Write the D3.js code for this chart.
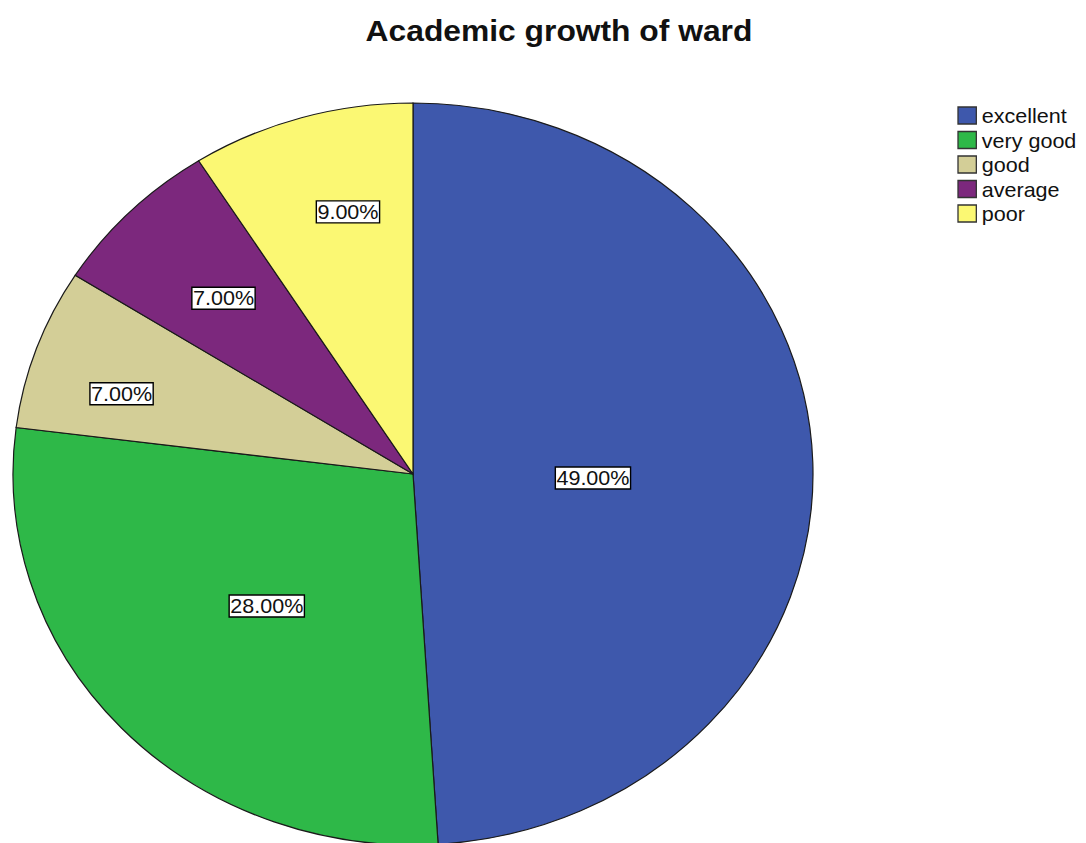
<!DOCTYPE html>
<html>
<head>
<meta charset="utf-8">
<script src="https://cdn.jsdelivr.net/npm/d3@7"></script>
<style>
  html, body { margin: 0; padding: 0; background: #fff; }
  svg { display: block; }
</style>
</head>
<body>
<svg id="chart" width="1086" height="843"></svg>
<script>
// ---- data ----
const titleText = "Academic growth of ward";
const categories = ["excellent", "very good", "good", "average", "poor"];
const percents = [49, 28, 7, 7, 9];
const colors = ["#3E58AC", "#2EB848", "#D3CE97", "#7C287D", "#FBF873"];

// ---- layout (label placement inside each slice: [fraction of slice angle, fraction of radius]) ----
const labelPlacement = [[0.518, 0.45], [0.49, 0.51], [0.37, 0.76], [0.50, 0.67], [0.60, 0.725]];

const W = 1086, H = 843;
const stretchX = 400 / 371;         // original image is horizontally stretched
const cx = 413 / stretchX, cy = 474, R = 371;

const svg = d3.select("#chart");
const root = svg.append("g").attr("transform", `scale(${stretchX},1)`);

// title
root.append("text")
  .attr("x", 559 / stretchX).attr("y", 41)
  .attr("text-anchor", "middle")
  .attr("font-family", "Liberation Sans, Arial, sans-serif")
  .attr("font-weight", "bold")
  .attr("font-size", 29.5)
  .attr("fill", "#111")
  .text(titleText);

const data = categories.map((c, i) => ({ cat: c, value: percents[i], color: colors[i], i }));
const pie = d3.pie().value(d => d.value).sort(null).startAngle(0).endAngle(2 * Math.PI);
const arcs = pie(data);
const arc = d3.arc().innerRadius(0).outerRadius(R);

const g = root.append("g").attr("transform", `translate(${cx},${cy})`);
g.selectAll("path.slice").data(arcs).enter().append("path")
  .attr("class", "slice")
  .attr("d", arc)
  .attr("fill", d => d.data.color)
  .attr("stroke", "#1a1a1a")
  .attr("stroke-width", 1.2)
  .attr("vector-effect", "non-scaling-stroke");

// labels
const fmt = d3.format(".2f");
arcs.forEach((a, i) => {
  const [af, rf] = labelPlacement[i];
  const ang = a.startAngle + (a.endAngle - a.startAngle) * af;
  const x = Math.sin(ang) * R * rf, y = -Math.cos(ang) * R * rf;
  const lg = g.append("g").attr("transform", `translate(${x},${y})`);
  const rect = lg.append("rect").attr("fill", "#fff").attr("stroke", "#000")
    .attr("stroke-width", 1.4).attr("vector-effect", "non-scaling-stroke");
  const t = lg.append("text")
    .attr("text-anchor", "middle")
    .attr("dy", "0.36em")
    .attr("font-family", "Liberation Sans, Arial, sans-serif")
    .attr("font-size", 20)
    .attr("fill", "#111")
    .text(fmt(a.data.value) + "%");
  const bb = t.node().getBBox();
  rect.attr("x", bb.x - 1).attr("y", -11).attr("width", bb.width + 2).attr("height", 22);
});

// legend
const legX = 958 / stretchX, legY = 107, legStep = 24.5, sw = 17;
const leg = root.append("g");
const items = leg.selectAll("g.item").data(data).enter().append("g")
  .attr("transform", (d, i) => `translate(${legX},${legY + i * legStep})`);
items.append("rect").attr("width", sw).attr("height", sw)
  .attr("fill", d => d.color).attr("stroke", "#333").attr("stroke-width", 1.3)
  .attr("vector-effect", "non-scaling-stroke");
items.append("text")
  .attr("x", sw + 5).attr("y", sw - 1)
  .attr("font-family", "Liberation Sans, Arial, sans-serif")
  .attr("font-size", 20)
  .attr("fill", "#111")
  .text(d => d.cat);
</script>
</body>
</html>
